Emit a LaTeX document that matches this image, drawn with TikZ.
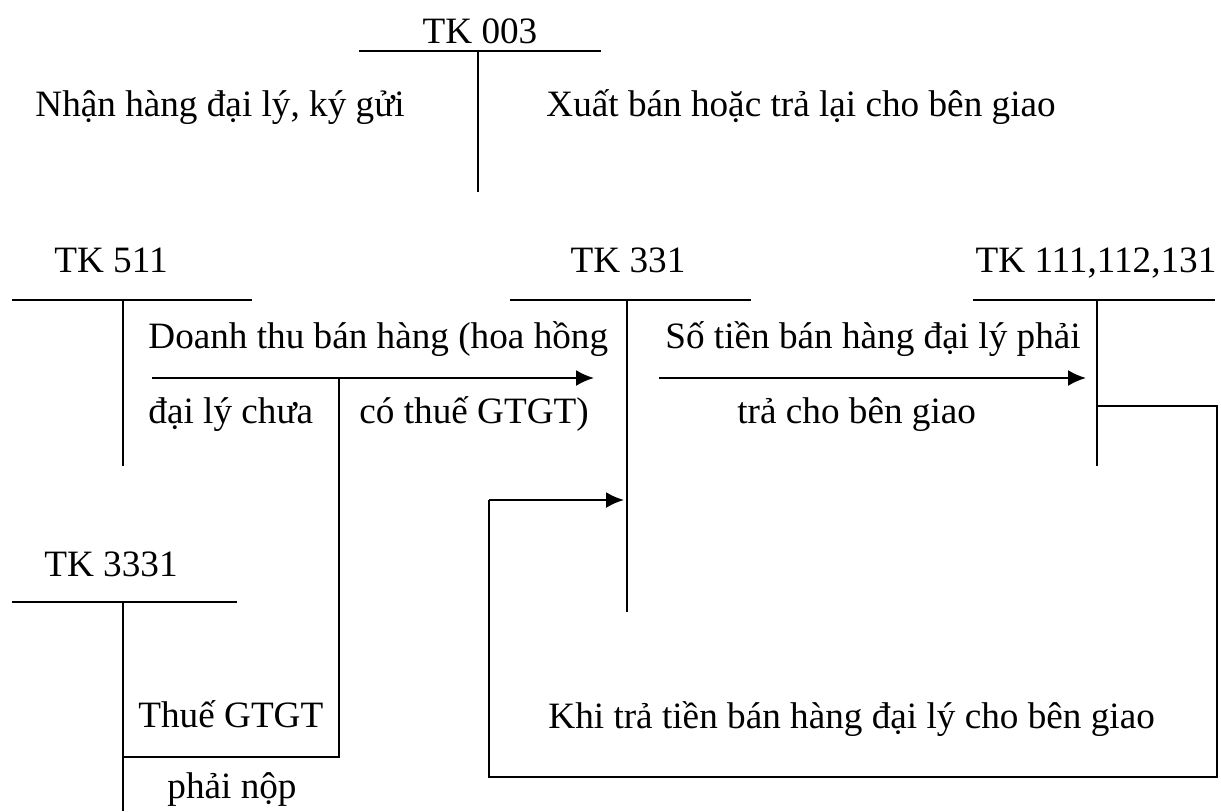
\documentclass[tikz,border=0pt]{standalone}
\usepackage{fontspec}
\setmainfont{Liberation Serif}
\usetikzlibrary{arrows.meta}
\tikzset{%
tline/.style={line width=0.7pt},
flow/.style={line width=1.1pt,-{Latex[length=9pt,width=8pt]}},
loopline/.style={line width=1.1pt},
title/.style={anchor=base,inner sep=0pt},
entry/.style={anchor=base west,inner sep=0pt},
}
\begin{document}
\begin{tikzpicture}[x=0.5pt,y=-0.5pt,
                    every node/.append style={font=\fontsize{18.6}{22}\selectfont}]
\useasboundingbox (0,0) rectangle (1221,811);

% TK 003
\node[title] (tk003) at (480,43) {TK 003};
\draw[tline] (359,51) -- (601,51);
\draw[tline] (478,51) -- (478,192);
\node[entry] (nhan) at (35,116) {Nhận hàng đại lý, ký gửi};
\node[entry] (xuat) at (546,116) {Xuất bán hoặc trả lại cho bên giao};

% TK 511
\node[title] (tk511) at (111,272) {TK 511};
\draw[tline] (12,300) -- (252,300);
\draw[tline] (123,300) -- (123,466);

% TK 331
\node[title] (tk331) at (628,272) {TK 331};
\draw[tline] (510,300) -- (751,300);
\draw[tline] (627,300) -- (627,612);

% TK 111,112,131
\node[title] (tk111) at (1096,272) {TK 111,112,131};
\draw[tline] (973,300) -- (1215,300);
\draw[tline] (1097,300) -- (1097,466);

% TK 3331
\node[title] (tk3331) at (111,576) {TK 3331};
\draw[tline] (12,602) -- (237,602);
\draw[tline] (123,602) -- (123,811);

\coordinate (from511) at (152,378);
\coordinate (to331) at (594,378);
\coordinate (split) at (339,378);
\coordinate (to3331) at (123,757);
\coordinate (from331) at (659,378);
\coordinate (to111) at (1086,378);
\coordinate (back111) at (1097,406);
\coordinate (loopse) at (1217,777);
\coordinate (loopnw) at (489,500);
\coordinate (back331) at (624,500);

\draw[flow] (from511) -- (to331);
\draw[tline] (split) |- (to3331);
\draw[flow] (from331) -- (to111);
\draw[loopline] (back111) -| (loopse) -| (loopnw);
\draw[flow] (loopnw) -- (back331);

\node[entry] (doanh) at (148,348) {Doanh thu bán hàng (hoa hồng};
\node[entry] (daily) at (148,423) {đại lý chưa};
\node[entry] (cothue) at (359,423) {có thuế GTGT)};
\node[entry] (sotien) at (665,348) {Số tiền bán hàng đại lý phải};
\node[entry] (tracho) at (737,423) {trả cho bên giao};
\node[entry] (thue) at (138,727) {Thuế GTGT};
\node[entry] (phainop) at (167,798) {phải nộp};
\node[entry] (khitra) at (548,728) {Khi trả tiền bán hàng đại lý cho bên giao};
\end{tikzpicture}
\end{document}
